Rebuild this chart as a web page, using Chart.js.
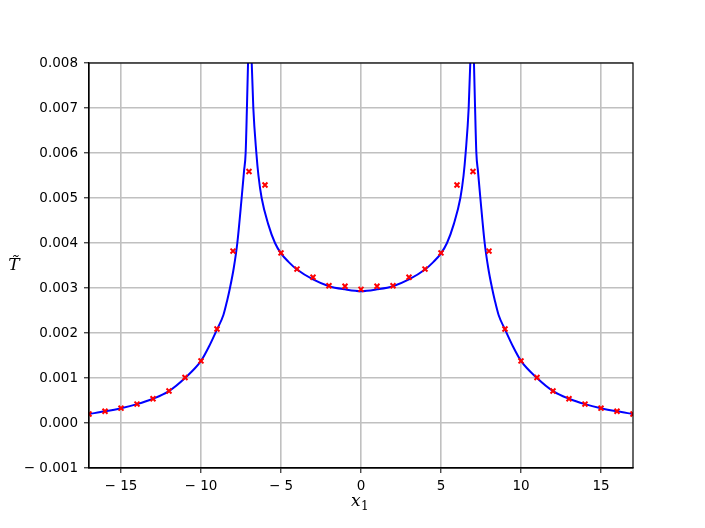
<!DOCTYPE html>
<html>
<head>
<meta charset="utf-8">
<script src="https://cdn.jsdelivr.net/npm/chart.js@4/dist/chart.umd.min.js"></script>
<style>
  html, body { margin: 0; padding: 0; background: #fff; }
  canvas { display: block; }
</style>
</head>
<body>
<canvas id="chart" width="705" height="528"></canvas>
<script>
// sampled points (red crosses)
const markerX = [-17, -16, -15, -14, -13, -12, -11, -10, -9, -8, -7, -6, -5, -4, -3, -2, -1,
  0, 1, 2, 3, 4, 5, 6, 7, 8, 9, 10, 11, 12, 13, 14, 15, 16, 17];
const markerY = [0.00020, 0.00026, 0.00033, 0.00042, 0.00054, 0.00071, 0.00101, 0.00138, 0.00209,
  0.00382, 0.00559, 0.00529, 0.00378, 0.00342, 0.00324, 0.00305, 0.00304,
  0.00297,
  0.00304, 0.00305, 0.00324, 0.00342, 0.00378, 0.00529, 0.00559, 0.00382,
  0.00209, 0.00138, 0.00101, 0.00071, 0.00054, 0.00042, 0.00033, 0.00026, 0.00020];

// analytic curve (blue); null = break at the poles
const curveX = [-17, -16, -15, -14, -13, -12, -11, -10, -9.5, -9, -8.6, -8.36, -8.19, -7.95,
  -7.73, -7.46, -7.31, -7.21, -7.13, -7.06, -7.0, -6.95, -6.9, -6.83, -6.73, -6.54, -6.41,
  -6.21, -5.8, -5.375, -5.0, -4.5, -4, -3, -2, -1, 0,
  1, 2, 3, 4, 4.5, 5.0, 5.375, 5.8, 6.21, 6.41, 6.54, 6.73, 6.83, 6.9, 6.95, 7.0, 7.06,
  7.13, 7.21, 7.31, 7.46, 7.73, 7.95, 8.19, 8.36, 8.6, 9, 9.5, 10, 11, 12, 13, 14, 15, 16, 17];
const curveY = [0.00020, 0.00026, 0.00033, 0.00042, 0.00054, 0.00071, 0.00100, 0.00138, 0.00170,
  0.00208, 0.00240, 0.00273, 0.00300, 0.00345, 0.00400, 0.00500, 0.00560, 0.00600, 0.00700,
  0.00800, 0.00900, null, 0.00900, 0.00800, 0.00700, 0.00600, 0.00550, 0.00500, 0.00442,
  0.00400, 0.00377, 0.00357, 0.00341, 0.00319, 0.00304, 0.00297, 0.00293,
  0.00297, 0.00304, 0.00319, 0.00341, 0.00357, 0.00377, 0.00400, 0.00442, 0.00500, 0.00550,
  0.00600, 0.00700, 0.00800, 0.00900, null, 0.00900, 0.00800, 0.00700, 0.00600, 0.00560,
  0.00500, 0.00400, 0.00345, 0.00300, 0.00273, 0.00240, 0.00208, 0.00170, 0.00138, 0.00100,
  0.00071, 0.00054, 0.00042, 0.00033, 0.00026, 0.00020];

const xTicks = [-15, -10, -5, 0, 5, 10, 15];
const yTicks = [-0.001, 0, 0.001, 0.002, 0.003, 0.004, 0.005, 0.006, 0.007, 0.008];

const tickFont = { family: 'DejaVu Sans', size: 13.5 };
const gridColor = '#c0c0c0';

const toPoints = (xs, ys) => xs.map((x, i) => ({ x: x, y: ys[i] }));

const minus = (s) => s.charAt(0) === '-' ? '\u2212 ' + s.slice(1) : s;

// frame around the axes + axis titles
const framePlugin = {
  id: 'frame',
  afterDatasetsDraw(chart) {
    const { ctx, chartArea: a } = chart;
    ctx.save();
    ctx.strokeStyle = '#000';
    ctx.lineWidth = 1.2;
    ctx.strokeRect(a.left, a.top, a.right - a.left, a.bottom - a.top);

    ctx.fillStyle = '#000';
    ctx.textAlign = 'center';
    ctx.textBaseline = 'alphabetic';
    ctx.font = 'italic 17px "DejaVu Serif"';
    ctx.fillText('T\u0303', 14, 270);

    ctx.textAlign = 'left';
    ctx.fillText('x', 351, 506);
    ctx.font = '12px "DejaVu Serif"';
    ctx.fillText('1', 361, 510);
    ctx.restore();
  }
};

new Chart(document.getElementById('chart'), {
  type: 'scatter',
  data: {
    datasets: [
      {
        label: 'samples',
        data: toPoints(markerX, markerY),
        pointStyle: 'crossRot',
        pointRadius: 3.5,
        pointHoverRadius: 3.5,
        borderColor: '#ff0000',
        backgroundColor: '#ff0000',
        pointBorderWidth: 2,
        showLine: false,
        clip: 0
      },
      {
        label: 'curve',
        data: toPoints(curveX, curveY),
        showLine: true,
        spanGaps: false,
        borderColor: '#0000ff',
        borderWidth: 2,
        pointRadius: 0,
        cubicInterpolationMode: 'monotone',
        clip: 0
      }
    ]
  },
  options: {
    responsive: false,
    animation: false,
    devicePixelRatio: 1,
    layout: { padding: { top: 63, right: 72, left: 0, bottom: 0 } },
    plugins: {
      legend: { display: false },
      tooltip: { enabled: false }
    },
    scales: {
      x: {
        type: 'linear',
        min: -17,
        max: 17,
        afterBuildTicks: (scale) => { scale.ticks = xTicks.map(v => ({ value: v })); },
        afterFit: (scale) => { scale.height = 60; },
        grid: { color: gridColor, lineWidth: 1.6, tickColor: '#000', tickLength: 5, tickWidth: 1 },
        border: { color: '#000', width: 1.2 },
        ticks: {
          color: '#000',
          font: tickFont,
          padding: 5,
          maxRotation: 0,
          callback: (v) => minus(String(v))
        }
      },
      y: {
        type: 'linear',
        min: -0.001,
        max: 0.008,
        afterBuildTicks: (scale) => { scale.ticks = yTicks.map(v => ({ value: v })); },
        afterFit: (scale) => { scale.width = 89; },
        grid: { color: gridColor, lineWidth: 1.6, tickColor: '#000', tickLength: 5, tickWidth: 1 },
        border: { color: '#000', width: 1.2 },
        ticks: {
          color: '#000',
          font: tickFont,
          padding: 6,
          callback: (v) => minus(v.toFixed(3))
        }
      }
    }
  },
  plugins: [framePlugin]
});
</script>
</body>
</html>
